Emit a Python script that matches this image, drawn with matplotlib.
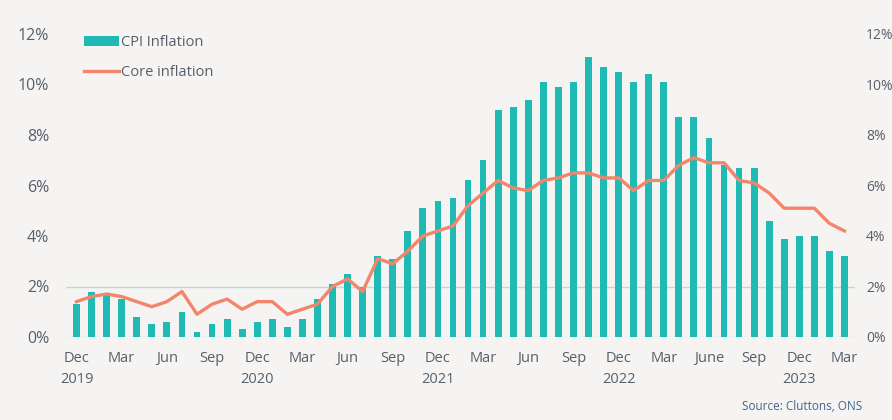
import matplotlib.pyplot as plt
import numpy as np

# CPI vs core inflation, monthly (52 bars)
cpi = [1.3, 1.8, 1.7, 1.5, 0.8, 0.5, 0.6, 1.0, 0.2, 0.5, 0.7, 0.3,
       0.6, 0.7, 0.4, 0.7, 1.5, 2.1, 2.5, 2.0, 3.2, 3.1, 4.2, 5.1,
       5.4, 5.5, 6.2, 7.0, 9.0, 9.1, 9.4, 10.1, 9.9, 10.1, 11.1, 10.7,
       10.5, 10.1, 10.4, 10.1, 8.7, 8.7, 7.9, 6.8, 6.7, 6.7, 4.6, 3.9,
       4.0, 4.0, 3.4, 3.2]
core = [1.4, 1.6, 1.7, 1.6, 1.4, 1.2, 1.4, 1.8, 0.9, 1.3, 1.5, 1.1,
        1.4, 1.4, 0.9, 1.1, 1.3, 2.0, 2.3, 1.8, 3.1, 2.9, 3.4, 4.0,
        4.2, 4.4, 5.2, 5.7, 6.2, 5.9, 5.8, 6.2, 6.3, 6.5, 6.5, 6.3,
        6.3, 5.8, 6.2, 6.2, 6.8, 7.1, 6.9, 6.9, 6.2, 6.1, 5.7, 5.1,
        5.1, 5.1, 4.5, 4.2]
tick_labels = ["Dec\n2019", "Mar", "Jun", "Sep", "Dec\n2020", "Mar", "Jun", "Sep",
               "Dec\n2021", "Mar", "Jun", "Sep", "Dec\n2022", "Mar", "June", "Sep",
               "Dec\n2023", "Mar"]

bg = "#f5f4f2"
teal = "#1fbab3"
orange = "#f2856b"
txt = "#56606b"

plt.rcParams['font.family'] = ['Open Sans', 'DejaVu Sans']

fig = plt.figure(figsize=(8.92, 4.2), dpi=100, facecolor=bg)
ax = fig.add_axes([66 / 892, 83 / 420, 789 / 892, 303 / 420])
ax.set_facecolor(bg)

x = np.arange(len(cpi))
bars = ax.bar(x, cpi, width=0.45, color=teal, label="CPI Inflation", zorder=2)
line, = ax.plot(x, core, color=orange, lw=2.4, label="Core inflation", zorder=3)
ax.axhline(2, color="#b5dcdc", lw=1, zorder=1)
ax.axhline(0, color="#dddddd", lw=1, zorder=1)

ax.set_xlim(-0.7, len(cpi) - 0.3)
ax.set_ylim(0, 12)
yt = np.arange(0, 13, 2)
ax.set_yticks(yt)
ax.set_yticklabels([f"{v}%" for v in yt])
ax.set_xticks(x[::3])
ax.set_xticklabels(tick_labels, linespacing=1.55)

for s in ax.spines.values():
    s.set_visible(False)
ax.tick_params(axis="y", length=0, pad=12, labelsize=11.5, labelcolor=txt)
ax.tick_params(axis="x", length=0, pad=10, labelsize=10.5, labelcolor=txt)

ax2 = ax.twinx()
ax2.set_ylim(0, 12)
ax2.set_yticks(yt)
ax2.set_yticklabels([f"{v}%" for v in yt])
ax2.tick_params(axis="y", length=0, pad=8, labelsize=10, labelcolor=txt)
for s in ax2.spines.values():
    s.set_visible(False)

leg = ax.legend([bars, line], ["CPI Inflation", "Core inflation"],
                loc="upper left", bbox_to_anchor=(0.015, 1.015), frameon=False,
                fontsize=10.5, handlelength=2.4, handletextpad=0.15,
                labelspacing=1.0, borderaxespad=0)
for t in leg.get_texts():
    t.set_color(txt)

fig.text(862 / 892, 1 - 407 / 420, "Source: Cluttons, ONS", ha="right", va="center",
         fontsize=8.5, color="#3d6690")

plt.savefig("out.png", dpi=100, facecolor=bg)
